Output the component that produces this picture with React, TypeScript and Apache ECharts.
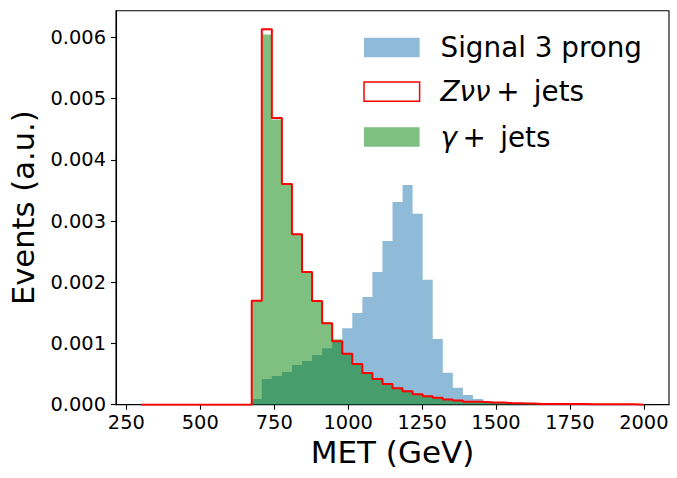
import React, { useEffect, useRef } from "react";
import * as echarts from "echarts";

// Bin edges of the MET histograms (GeV)
const binEdges = [
  300, 334, 368, 402, 436, 470, 504, 538, 572, 606, 640, 674, 708, 742, 776, 810, 844,
  878, 912, 946, 980, 1014, 1048, 1082, 1116, 1150, 1184, 1218, 1252, 1286, 1320, 1354,
  1388, 1422, 1456, 1490, 1524, 1558, 1592, 1626, 1660, 1694, 1728, 1762, 1796, 1830,
  1864, 1898, 1932, 1966, 2000,
];

// Normalised bin contents (one per bin)
const signal3Prong = [
  0, 0, 0, 0, 0, 0, 0, 0, 0, 0, 0,
  0.000093, 0.00042, 0.000469, 0.000534, 0.000649, 0.000714, 0.000812, 0.000921, 0.001045,
  0.00125, 0.001498, 0.00176, 0.002168, 0.002675, 0.00331, 0.00359, 0.003121, 0.002043,
  0.001074, 0.00052, 0.000275, 0.000159, 0.000093, 0.00006, 0.000044, 0.000025, 0.000015,
  0.00001, 0.000005,
  0, 0, 0, 0, 0, 0, 0, 0, 0, 0,
];

const zvvJets = [
  0, 0, 0, 0, 0, 0, 0, 0, 0, 0, 0,
  0.0017, 0.006134, 0.004685, 0.003606, 0.002784, 0.002168, 0.001695, 0.001332, 0.001036,
  0.000832, 0.000663, 0.000516, 0.000418, 0.000338, 0.00027, 0.00022, 0.000172, 0.00014,
  0.000112, 0.000085, 0.000068, 0.00005, 0.000047, 0.000037, 0.000035, 0.000025, 0.000022,
  0.00002, 0.000012, 0.000011, 0.000011, 0.00001, 0.00001, 0.000009, 0.000009, 0.000008,
  0.000008, 0.000008, 0,
];

const gammaJets = [
  0, 0, 0, 0, 0, 0, 0, 0, 0, 0, 0,
  0.00171, 0.00605, 0.00466, 0.0036, 0.00279, 0.00217, 0.0017, 0.001345, 0.001068,
  0.00084, 0.00067, 0.00052, 0.000425, 0.00034, 0.000275, 0.000222, 0.000175, 0.000142,
  0.000113, 0.000086, 0.00007, 0.000052, 0.000048, 0.00004, 0.000034, 0.000027, 0.00003,
  0.00002, 0.000018, 0.000012, 0.00001, 0.00001, 0.000009, 0.000008, 0.000008, 0.000007,
  0.000007, 0.000006, 0,
];

const xTickValues = [250, 500, 750, 1000, 1250, 1500, 1750, 2000];
const yTickValues = [0, 0.001, 0.002, 0.003, 0.004, 0.005, 0.006];

const legendLabels = ["Signal 3 prong", "Zνν", "γ"];

// Build step points for a histogram: each bin start with its value, plus the final edge
function stepPoints(values: number[]): number[][] {
  const pts = values.map((v, i) => [binEdges[i], v]);
  pts.push([binEdges[binEdges.length - 1], values[values.length - 1]]);
  return pts;
}

const FONT = "DejaVu Sans";

export default function App() {
  const ref = useRef<HTMLDivElement>(null);

  useEffect(() => {
    if (!ref.current) return;
    const chart = echarts.init(ref.current, undefined, { renderer: "svg" });

    const legendX = 364;
    const handleW = 55.6;
    const handleH = 19.4;
    const textX = 440.5;
    const rows = [47.5, 91.6, 137];
    const legendFont = 27.8;

    const richStyles = {
      i: { fontFamily: FONT, fontSize: legendFont, fontStyle: "italic", fill: "#000" },
      n: { fontFamily: FONT, fontSize: legendFont, fill: "#000" },
    };

    const option: any = {
      animation: false,
      backgroundColor: "#fff",
      grid: {
        left: 110,
        right: 8,
        top: 10.7,
        bottom: 73.3,
        show: true,
        borderColor: "#000",
        borderWidth: 1.1,
        backgroundColor: "transparent",
      },
      xAxis: {
        type: "value",
        min: 215,
        max: 2085,
        name: "MET (GeV)",
        nameLocation: "middle",
        nameGap: 32,
        nameTextStyle: { fontFamily: FONT, fontSize: 31, color: "#000" },
        axisLine: { show: true, onZero: false, lineStyle: { color: "#000", width: 1.1 } },
        axisTick: {
          show: true,
          length: 5,
          lineStyle: { color: "#000", width: 1.1 },
          customValues: xTickValues,
        },
        axisLabel: {
          fontFamily: FONT,
          fontSize: 19.4,
          color: "#000",
          margin: 8,
          customValues: xTickValues,
          formatter: (v: number) => String(v),
        },
        splitLine: { show: false },
      },
      yAxis: {
        type: "value",
        min: 0,
        max: 0.006437,
        interval: 0.001,
        name: "Events (a.u.)",
        nameLocation: "middle",
        nameGap: 77,
        nameTextStyle: { fontFamily: FONT, fontSize: 30.6, color: "#000" },
        axisLine: { show: true, lineStyle: { color: "#000", width: 1.1 } },
        axisTick: {
          show: true,
          length: 5,
          lineStyle: { color: "#000", width: 1.1 },
          customValues: yTickValues,
        },
        axisLabel: {
          fontFamily: FONT,
          fontSize: 19.4,
          color: "#000",
          margin: 10,
          customValues: yTickValues,
          formatter: (v: number) => v.toFixed(3),
        },
        splitLine: { show: false },
      },
      series: [
        {
          name: "Signal 3 prong",
          type: "line",
          step: "end",
          data: stepPoints(signal3Prong),
          symbol: "none",
          lineStyle: { width: 0, opacity: 0 },
          areaStyle: { color: "#1f77b4", opacity: 0.5 },
          z: 2,
        },
        {
          name: "γ+ jets",
          type: "line",
          step: "end",
          data: stepPoints(gammaJets),
          symbol: "none",
          lineStyle: { width: 0, opacity: 0 },
          areaStyle: { color: "#008000", opacity: 0.5 },
          z: 3,
        },
        {
          name: "Zνν+ jets",
          type: "line",
          step: "end",
          data: stepPoints(zvvJets),
          symbol: "none",
          lineStyle: { width: 2, color: "#ff0000" },
          z: 4,
        },
      ],
      graphic: [
        {
          type: "rect",
          shape: { x: legendX, y: rows[0] - handleH / 2, width: handleW, height: handleH },
          style: { fill: "#1f77b4", opacity: 0.5 },
        },
        {
          type: "rect",
          shape: { x: legendX, y: rows[1] - handleH / 2, width: handleW, height: handleH },
          style: { fill: "#fff", stroke: "#ff0000", lineWidth: 1.5 },
        },
        {
          type: "rect",
          shape: { x: legendX, y: rows[2] - handleH / 2, width: handleW, height: handleH },
          style: { fill: "#008000", opacity: 0.5 },
        },
        {
          type: "text",
          x: textX,
          y: rows[0],
          style: {
            text: legendLabels[0],
            fontFamily: FONT,
            fontSize: legendFont,
            fill: "#000",
            verticalAlign: "middle",
            align: "left",
          },
        },
        {
          type: "text",
          x: textX,
          y: rows[1],
          style: {
            text: "{i|" + legendLabels[1] + "}{n|\u2009+\u2009 jets}",
            fontFamily: FONT,
            fontSize: legendFont,
            fill: "#000",
            verticalAlign: "middle",
            align: "left",
            rich: richStyles,
          },
        },
        {
          type: "text",
          x: textX,
          y: rows[2],
          style: {
            text: "{i|" + legendLabels[2] + "}{n|\u2009+\u2009 jets}",
            fontFamily: FONT,
            fontSize: legendFont,
            fill: "#000",
            verticalAlign: "middle",
            align: "left",
            rich: richStyles,
          },
        },
      ],
    };

    chart.setOption(option);
    return () => {
      chart.dispose();
    };
  }, []);

  return (
    <div
      ref={ref}
      style={{ position: "fixed", left: 0, top: 0, width: 677, height: 478, background: "#fff" }}
    />
  );
}
